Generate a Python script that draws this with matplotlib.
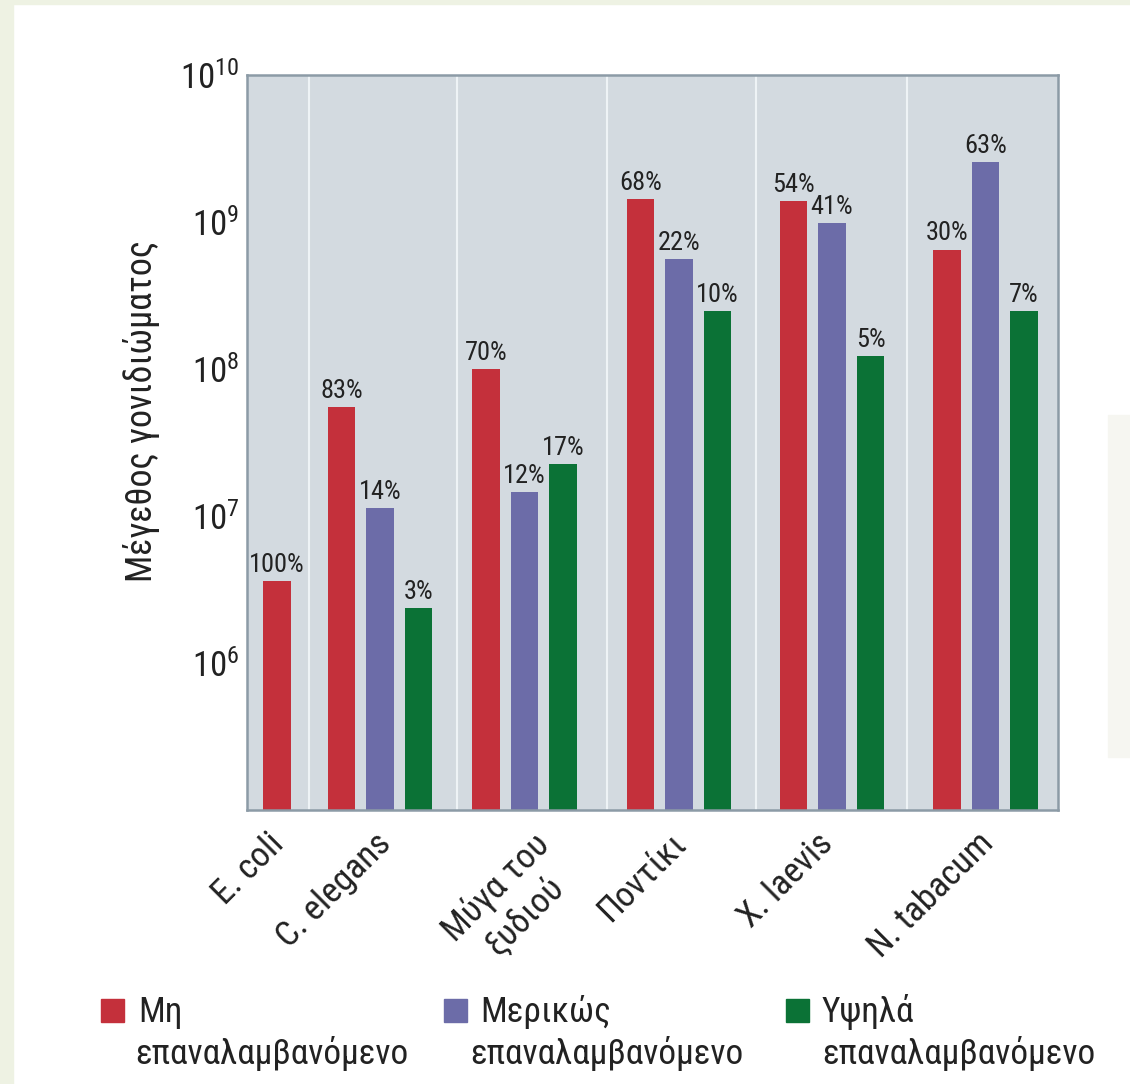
import math
import matplotlib
matplotlib.use("Agg")
import matplotlib.pyplot as plt
from matplotlib.patches import Rectangle
from matplotlib.ticker import NullLocator

# δεδομένα
organisms = ["E. coli", "C. elegans", "Μύγα του\nξυδιού", "Ποντίκι", "X. laevis", "N. tabacum"]
series_names = ["Μη\nεπαναλαμβανόμενο", "Μερικώς\nεπαναλαμβανόμενο", "Υψηλά\nεπαναλαμβανόμενο"]
non_rep = [3.6e6, 5.5e7, 1.0e8, 1.43e9, 1.39e9, 6.5e8]
part_rep = [None, 1.13e7, 1.46e7, 5.6e8, 9.8e8, 2.56e9]
high_rep = [None, 2.37e6, 2.26e7, 2.48e8, 1.22e8, 2.48e8]
non_pct = ["100%", "83%", "70%", "68%", "54%", "30%"]
part_pct = [None, "14%", "12%", "22%", "41%", "63%"]
high_pct = [None, "3%", "17%", "10%", "5%", "7%"]
y_ticks = [1e6, 1e7, 1e8, 1e9, 1e10]
y_label = "Μέγεθος γονιδιώματος"

colors = ["#c4303b", "#6c6ca8", "#0b7236"]
text_col = "#222222"

# διάταξη (x σε pixel από την αριστερή άκρη του άξονα)
W, H = 1130, 1084
red_x = [30, 94.5, 239, 393.5, 546.5, 700]
pitch = 38.5
bar_w = 27.5
separators = [62, 210, 360, 509, 660]
label_x = [20, 127, 285, 422, 569, 730]

plt.rcParams["font.family"] = ["Roboto Condensed", "DejaVu Sans"]


def fx(px):
    return px / W


def fy(py):
    return 1 - py / H


fig = plt.figure(figsize=(W / 100, H / 100), dpi=100)
# περιθώρια σελίδας
fig.patches.append(Rectangle((0, 0), fx(13), 1, transform=fig.transFigure,
                             color="#eef2e3", zorder=0))
fig.patches.append(Rectangle((0, fy(4)), 1, fy(0) - fy(4), transform=fig.transFigure,
                             color="#eef2e3", zorder=0))
fig.patches.append(Rectangle((fx(1108), fy(757)), fx(22), fy(415) - fy(757),
                             transform=fig.transFigure, color="#f6f6f1", zorder=0))

ax = fig.add_axes([fx(247), fy(810), fx(1058) - fx(247), fy(75) - fy(810)])
ax.set_facecolor("#d3dae0")
ax.set_yscale("log")
ax.set_ylim(1e5, 1e10)
ax.set_xlim(0, 811)

for s in separators:
    ax.axvline(s, color="#eef3f6", lw=1.5, zorder=1)

all_vals = [non_rep, part_rep, high_rep]
all_pct = [non_pct, part_pct, high_pct]
for k in range(3):
    for i in range(len(organisms)):
        v = all_vals[k][i]
        if v is None:
            continue
        x = red_x[i] + k * pitch
        ax.bar(x, v, width=bar_w, color=colors[k], zorder=2)
        ax.annotate(all_pct[k][i], (x, v), xytext=(0, 3), textcoords="offset points",
                    ha="center", va="bottom", fontsize=19, color=text_col)

ax.set_xticks([])
ax.set_yticks(y_ticks)
ax.set_yticklabels([r"$\mathregular{10^{%d}}$" % round(math.log10(t)) for t in y_ticks],
                   fontsize=25, color=text_col)
ax.yaxis.set_minor_locator(NullLocator())
ax.tick_params(axis="y", length=0, pad=5.5)
for sp in ax.spines.values():
    sp.set_color("#8c9ba6")
    sp.set_linewidth(1.8)

ax.set_ylabel(y_label, fontsize=26, color=text_col)
ax.yaxis.set_label_coords(-0.107, 0.543)

for i, name in enumerate(organisms):
    ax.text(label_x[i], -0.023, name, transform=ax.get_xaxis_transform(),
            rotation=45, rotation_mode="anchor", ha="right", va="top",
            multialignment="center", fontsize=25.5, color=text_col)

# υπόμνημα
leg_sq = [101, 444, 786]
leg_txt = [138, 480, 822]
leg_txt2 = [135, 470, 822]
for k in range(3):
    fig.patches.append(Rectangle((fx(leg_sq[k]), fy(1022)), fx(23), fy(999) - fy(1022),
                                 transform=fig.transFigure, color=colors[k]))
    first, second = series_names[k].split("\n")
    fig.text(fx(leg_txt[k]), fy(1022), first, fontsize=25.5, va="baseline", color=text_col)
    fig.text(fx(leg_txt2[k]), fy(1064), second, fontsize=25.5, va="baseline", color=text_col)

fig.savefig("out.png", dpi=100, facecolor="white")
